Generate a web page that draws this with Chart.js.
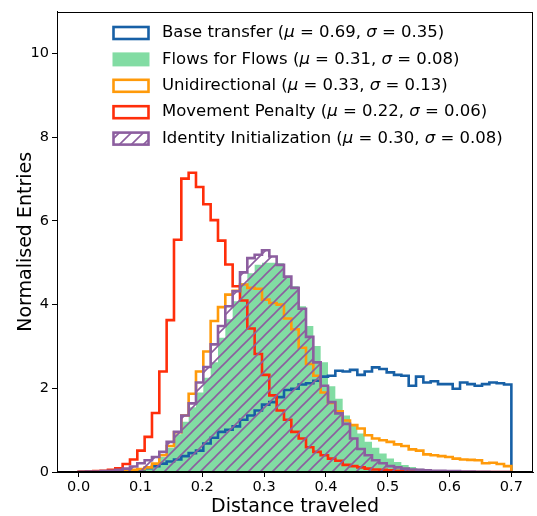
<!DOCTYPE html>
<html>
<head>
<meta charset="utf-8">
<script src="https://cdn.jsdelivr.net/npm/chart.js@4.4.0/dist/chart.umd.min.js"></script>
<style>
  html, body { margin: 0; padding: 0; background: #fff; }
</style>
</head>
<body>
<canvas id="myChart" width="537" height="516"></canvas>
<script>
// histogram binning (59 equal bins between 0 and 0.7)
var binLo = 0.0;
var binHi = 0.7;
var nBins = 59;

var xTicks = [0.0, 0.1, 0.2, 0.3, 0.4, 0.5, 0.6, 0.7];
var yTicks = [0, 2, 4, 6, 8, 10];

// legend text
var names = ["Base transfer", "Flows for Flows", "Unidirectional", "Movement Penalty", "Identity Initialization"];
var mus = ["0.69", "0.31", "0.33", "0.22", "0.30"];
var sigmas = ["0.35", "0.08", "0.13", "0.06", "0.08"];

// bin heights
var baseTransfer = [0, 0, 0, 0.005, 0.01, 0.02, 0.03, 0.04, 0.06, 0.09,
  0.14, 0.20, 0.25, 0.30, 0.38, 0.45, 0.51, 0.68, 0.82, 0.96,
  1.01, 1.09, 1.25, 1.35, 1.47, 1.61, 1.67, 1.79, 1.96, 1.99,
  2.09, 2.12, 2.18, 2.28, 2.30, 2.42, 2.40, 2.44, 2.32, 2.40,
  2.50, 2.46, 2.38, 2.32, 2.30, 2.06, 2.28, 2.14, 2.17, 2.10,
  2.10, 1.99, 2.14, 2.10, 2.06, 2.10, 2.14, 2.12, 2.09];

var flowsForFlows = [0, 0, 0.005, 0.01, 0.01, 0.02, 0.03, 0.05, 0.08, 0.13,
  0.20, 0.36, 0.58, 0.90, 1.20, 1.55, 1.90, 2.25, 2.62, 3.21,
  3.65, 4.08, 4.51, 4.75, 4.95, 5.00, 5.00, 4.99, 4.67, 4.44,
  3.96, 3.49, 3.01, 2.62, 2.05, 1.75, 1.35, 1.10, 0.92, 0.72,
  0.58, 0.44, 0.32, 0.24, 0.17, 0.12, 0.08, 0.06, 0.04, 0.03,
  0.02, 0.015, 0.01, 0.01, 0.005, 0, 0, 0, 0];

var unidirectional = [0, 0, 0.005, 0.01, 0.01, 0.02, 0.03, 0.05, 0.07, 0.11,
  0.20, 0.40, 0.62, 0.95, 1.35, 1.87, 2.40, 2.88, 3.61, 3.94,
  4.24, 4.33, 4.48, 4.40, 4.38, 4.12, 4.04, 4.00, 3.67, 3.41,
  2.97, 2.58, 2.30, 1.90, 1.65, 1.45, 1.23, 1.12, 1.04, 0.88,
  0.80, 0.76, 0.72, 0.66, 0.62, 0.54, 0.51, 0.42, 0.40, 0.38,
  0.36, 0.32, 0.30, 0.29, 0.28, 0.21, 0.22, 0.19, 0.14];

var movementPenalty = [0.005, 0.01, 0.02, 0.03, 0.05, 0.09, 0.19, 0.30, 0.51, 0.84,
  1.41, 2.40, 3.63, 5.55, 7.01, 7.15, 6.81, 6.40, 6.02, 5.53,
  4.96, 4.44, 4.10, 3.43, 2.82, 2.32, 1.83, 1.47, 1.25, 0.96,
  0.80, 0.59, 0.48, 0.40, 0.32, 0.27, 0.17, 0.14, 0.11, 0.08,
  0.06, 0.05, 0.04, 0.03, 0.02, 0.02, 0.01, 0.01, 0.01, 0.005,
  0.005, 0, 0, 0, 0, 0, 0, 0, 0];

var identityInit = [0.005, 0.01, 0.01, 0.02, 0.03, 0.05, 0.08, 0.13, 0.21, 0.28,
  0.36, 0.48, 0.72, 0.96, 1.35, 1.64, 2.14, 2.51, 3.05, 3.49,
  3.96, 4.32, 4.77, 5.11, 5.19, 5.30, 5.15, 4.95, 4.67, 4.40,
  3.90, 3.23, 2.62, 2.06, 1.67, 1.40, 1.15, 0.80, 0.55, 0.40,
  0.28, 0.21, 0.14, 0.11, 0.08, 0.06, 0.05, 0.04, 0.03, 0.03,
  0.02, 0.02, 0.01, 0.01, 0.005, 0.005, 0, 0, 0];

var colBlue = '#1760a6';
var colGreen = '#82dca3';
var colOrange = '#ff9a0a';
var colRed = '#ff2e0a';
var colPurple = '#8c5e9f';
var fontFam = "'DejaVu Sans', sans-serif";

// turn bin heights into a step outline (x,y) list
function stepPoints(h) {
  var w = (binHi - binLo) / nBins;
  var pts = [{x: binLo, y: 0}];
  for (var i = 0; i < h.length; i++) {
    pts.push({x: binLo + i * w, y: h[i]});
    pts.push({x: binLo + (i + 1) * w, y: h[i]});
  }
  pts.push({x: binHi, y: 0});
  return pts;
}

var ctx = document.getElementById('myChart').getContext('2d');

function makeHatch(color) {
  var c = document.createElement('canvas');
  c.width = 12; c.height = 12;
  var g = c.getContext('2d');
  g.strokeStyle = color;
  g.lineWidth = 1.6;
  g.beginPath();
  g.moveTo(-1, 13); g.lineTo(13, -1);
  g.moveTo(-7, 7); g.lineTo(7, -7);
  g.moveTo(5, 19); g.lineTo(19, 5);
  g.stroke();
  return ctx.createPattern(c, 'repeat');
}
var hatch = makeHatch(colPurple);

function lineSet(label, h, color, order) {
  return {
    label: label,
    data: stepPoints(h),
    borderColor: color,
    borderWidth: 2.6,
    borderJoinStyle: 'miter',
    backgroundColor: 'transparent',
    fill: false,
    pointRadius: 0,
    tension: 0,
    order: order
  };
}

var datasets = [
  lineSet(names[0], baseTransfer, colBlue, 3),
  {
    label: names[1],
    data: stepPoints(flowsForFlows),
    borderWidth: 0,
    borderColor: colGreen,
    backgroundColor: colGreen,
    fill: 'origin',
    pointRadius: 0,
    tension: 0,
    order: 4
  },
  lineSet(names[2], unidirectional, colOrange, 2),
  lineSet(names[3], movementPenalty, colRed, 1),
  Object.assign(lineSet(names[4], identityInit, colPurple, 0), {fill: 'origin', backgroundColor: hatch})
];

// box around the plot area
var framePlugin = {
  id: 'frame',
  afterDraw: function(chart) {
    var a = chart.chartArea, c = chart.ctx;
    c.save();
    c.strokeStyle = '#000';
    c.lineWidth = 1;
    c.strokeRect(Math.round(a.left) + 0.5, Math.round(a.top) + 0.5,
      Math.round(a.right - a.left) - 1, Math.round(a.bottom - a.top) - 1);
    c.restore();
  }
};

// matplotlib-like legend inside the axes
var legendPlugin = {
  id: 'mplLegend',
  afterDraw: function(chart) {
    var c = chart.ctx;
    var boxX = 113.5, boxW = 35, boxH = 12, textX = 162;
    var rowY = 33, rowStep = 26.4;
    c.save();
    for (var i = 0; i < names.length; i++) {
      var ds = chart.data.datasets[i];
      var cy = rowY + i * rowStep;
      var by = cy - boxH / 2;
      if (i === 1) {
        c.fillStyle = colGreen;
        c.fillRect(boxX - 1, by - 1, boxW + 2, boxH + 2);
      } else {
        if (i === 4) {
          c.fillStyle = hatch;
          c.fillRect(boxX, by, boxW, boxH);
        }
        c.strokeStyle = ds.borderColor;
        c.lineWidth = 2.6;
        c.lineJoin = 'miter';
        c.strokeRect(boxX, by, boxW, boxH);
      }
      var parts = [
        ['normal', names[i] + ' ('],
        ['italic', '\u03bc'],
        ['normal', ' = ' + mus[i] + ', '],
        ['italic', '\u03c3'],
        ['normal', ' = ' + sigmas[i] + ')']
      ];
      var x = textX;
      c.fillStyle = '#000';
      c.textBaseline = 'middle';
      c.textAlign = 'left';
      for (var p = 0; p < parts.length; p++) {
        c.font = parts[p][0] + ' 16.5px ' + fontFam;
        c.fillText(parts[p][1], x, cy);
        x += c.measureText(parts[p][1]).width;
      }
    }
    c.restore();
  }
};

new Chart(ctx, {
  type: 'line',
  data: { datasets: datasets },
  options: {
    responsive: false,
    animation: false,
    devicePixelRatio: 1,
    layout: { padding: { left: 4, top: 9, right: 4, bottom: 0 } },
    plugins: {
      legend: { display: false },
      tooltip: { enabled: false }
    },
    scales: {
      x: {
        type: 'linear',
        min: -0.035,
        max: 0.735,
        afterBuildTicks: function(s) { s.ticks = xTicks.map(function(v) { return {value: v}; }); },
        afterFit: function(s) { s.height = 44; },
        ticks: {
          color: '#000',
          font: { family: fontFam, size: 14.5 },
          padding: 2,
          maxRotation: 0,
          callback: function(v) { return v.toFixed(1); }
        },
        grid: { drawOnChartArea: false, drawTicks: true, tickLength: 5, color: '#000' },
        border: { display: true, color: '#000', width: 1 },
        title: {
          display: true,
          text: 'Distance traveled',
          color: '#000',
          font: { family: fontFam, size: 19, lineHeight: 1 },
          padding: { top: 0, bottom: -1 }
        }
      },
      y: {
        min: 0,
        max: 11,
        afterBuildTicks: function(s) { s.ticks = yTicks.map(function(v) { return {value: v}; }); },
        afterFit: function(s) { s.width = 53; },
        ticks: {
          color: '#000',
          font: { family: fontFam, size: 14.5 },
          padding: 3
        },
        grid: { drawOnChartArea: false, drawTicks: true, tickLength: 5, color: '#000' },
        border: { display: true, color: '#000', width: 1 },
        title: {
          display: true,
          text: 'Normalised Entries',
          color: '#000',
          font: { family: fontFam, size: 19 },
          padding: { top: 11, bottom: 0 }
        }
      }
    }
  },
  plugins: [framePlugin, legendPlugin]
});
</script>
</body>
</html>
